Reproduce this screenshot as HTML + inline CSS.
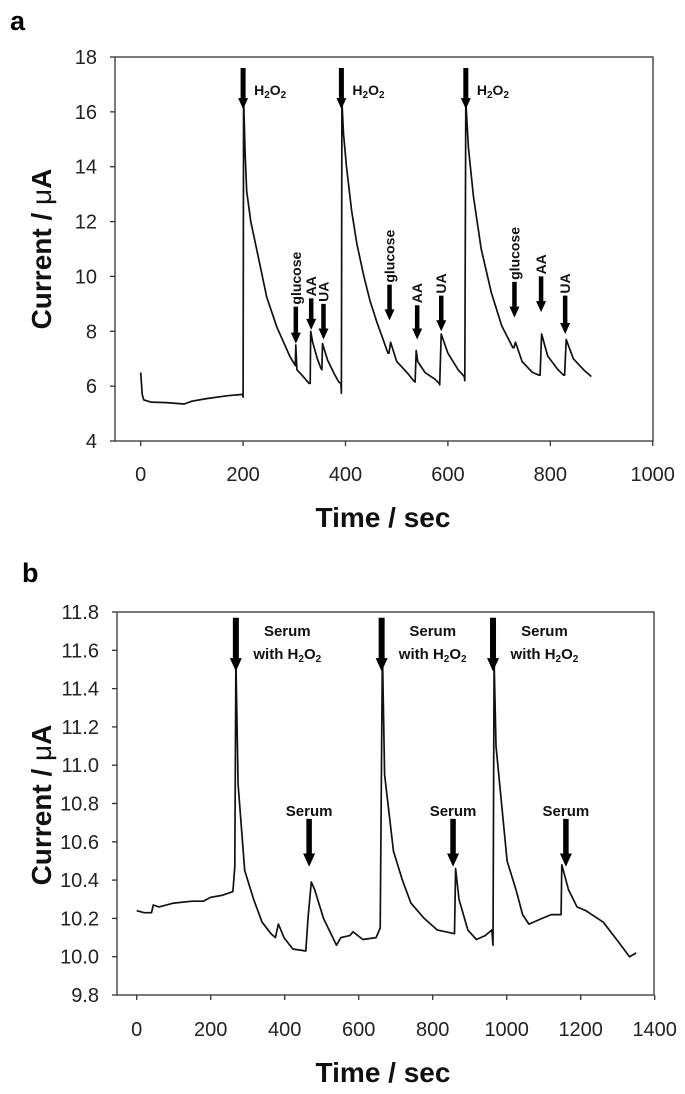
<!DOCTYPE html>
<html><head><meta charset="utf-8"><style>
html,body{margin:0;padding:0;background:#fff;width:685px;height:1094px;overflow:hidden}
svg{display:block}
text{font-family:"Liberation Sans",Arial,sans-serif}
</style></head><body>
<svg id="fig" width="685" height="1094" viewBox="0 0 685 1094" xmlns="http://www.w3.org/2000/svg">
<text x="10" y="30" font-size="27" font-weight="bold">a</text>
<text x="22" y="582" font-size="27" font-weight="bold">b</text>
<g id="pa"></g>
<g id="pb"></g>
</svg>
<script>
// ---------- Panel a data ----------
const aTime = [0,3,6,20,50,85,100,130,170,199,200,201,204,207,215,227,246,266,292,302,303,305,315,329,331,332,336,345,352,354,355,365,378,387,391,392,393,396,402,412,422,436,448,462,474,483,485,488,500,520,533,536,538,541,555,575,583,584,587,600,620,632,633,635,640,650,665,685,705,727,729,732,745,765,778,780,783,795,815,826,828,831,845,865,880];
const aCurr = [6.5,5.7,5.5,5.42,5.4,5.35,5.45,5.55,5.65,5.7,5.6,16.5,14.5,13.1,12.0,10.95,9.25,8.15,7.06,6.75,7.5,6.6,6.4,6.1,6.1,8.0,7.6,7.0,6.65,6.6,7.55,6.95,6.45,6.15,6.1,5.74,16.4,15.2,14.0,12.4,11.2,10.0,9.1,8.3,7.67,7.2,7.2,7.6,6.9,6.5,6.2,6.15,7.3,6.9,6.5,6.25,6.1,6.05,7.9,7.2,6.6,6.35,6.2,16.4,14.7,12.9,11.0,9.4,8.2,7.4,7.4,7.6,6.9,6.5,6.4,6.4,7.9,7.1,6.6,6.4,6.4,7.7,7.0,6.6,6.35];
const aYTicks = [4,6,8,10,12,14,16,18];
const aXTicks = [0,200,400,600,800,1000];
const aArrowT = [200,392,635,303,333,357,486,540,587,730,782,829];
const aArrowTop = [17.6,17.6,17.6,8.9,9.2,9.0,9.7,8.95,9.3,9.8,10.0,9.3];
const aArrowTip = [16.1,16.1,16.1,7.55,8.05,7.7,8.4,7.7,8.0,8.5,8.7,7.9];
const aArrowLbl = ["H2O2","H2O2","H2O2","glucose","AA","UA","glucose","AA","UA","glucose","AA","UA"];

// ---------- Panel b data ----------
const bTime = [0,20,40,45,60,100,150,180,200,230,260,265,268,274,292,316,339,363,375,383,398,422,457,463,472,481,505,540,552,576,585,611,647,658,664,670,694,718,741,777,812,859,862,871,895,918,942,960,963,966,971,1001,1025,1043,1060,1096,1120,1147,1149,1167,1190,1214,1261,1297,1332,1350];
const bCurr = [10.24,10.23,10.23,10.27,10.26,10.28,10.29,10.29,10.31,10.32,10.34,10.47,11.55,10.9,10.45,10.3,10.18,10.12,10.1,10.17,10.1,10.04,10.03,10.2,10.39,10.35,10.2,10.06,10.1,10.11,10.13,10.09,10.1,10.15,11.6,10.95,10.55,10.4,10.28,10.2,10.14,10.12,10.46,10.3,10.14,10.09,10.11,10.14,10.06,11.55,11.1,10.5,10.35,10.22,10.17,10.2,10.22,10.22,10.48,10.35,10.26,10.24,10.18,10.09,10.0,10.02];
const bYTicks = [9.8,10.0,10.2,10.4,10.6,10.8,11.0,11.2,11.4,11.6,11.8];
const bXTicks = [0,200,400,600,800,1000,1200,1400];
const bArrowT = [268,662,963,466,855,1160];
const bArrowTop = [11.77,11.77,11.77,10.72,10.72,10.72];
const bArrowTip = [11.49,11.49,11.49,10.47,10.47,10.47];
const bLblT = [407,800,1102,466,855,1160];
const bArrowBig = [true,true,true,false,false,false];

const NS="http://www.w3.org/2000/svg";
function mk(parent,tag,attrs){const e=document.createElementNS(NS,tag);for(const k in attrs)e.setAttribute(k,attrs[k]);parent.appendChild(e);return e;}

function axes(g,L,R,T,B,x,y,xt,yt,dec,ytitleY,xtitleY,tickY){
  const box=mk(g,'rect',{x:L,y:T,width:R-L,height:B-T,fill:'none',stroke:'#333','stroke-width':1.3});
  
  
  yt.forEach(v=>{
    const t=mk(g,'line',{x1:L-5,x2:L,y1:y(v),y2:y(v),stroke:'#333','stroke-width':1.3});
    
    
    const l=mk(g,'text',{x:L-18,y:y(v)+7,'font-size':20,'text-anchor':'end',fill:'#222'});
    l.textContent=v.toFixed(dec);
    
    
  });
  xt.forEach(v=>{
    const t=mk(g,'line',{x1:x(v),x2:x(v),y1:B,y2:B+5,stroke:'#333','stroke-width':1.3});
    
    
    const l=mk(g,'text',{x:x(v),y:tickY,'font-size':20,'text-anchor':'middle',fill:'#222'});
    l.textContent=v;
    
    
  });
  const xtl=mk(g,'text',{x:383,y:xtitleY,'font-size':28,'font-weight':'bold','text-anchor':'middle',fill:'#111'});
  xtl.textContent='Time / sec';
  
  
  const ytl=mk(g,'text',{x:0,y:0,'font-size':28,'font-weight':'bold','text-anchor':'middle',fill:'#111',transform:`translate(51,${ytitleY}) rotate(-90)`});
  ytl.innerHTML='Current / <tspan font-weight="normal">\u03bc</tspan>A';
  
  
}
function line(g,x,y,ts,vs,name){
  const p=mk(g,'polyline',{points:ts.map((t,i)=>x(t).toFixed(1)+','+y(vs[i]).toFixed(1)).join(' '),fill:'none',stroke:'#111','stroke-width':1.7,'stroke-linejoin':'round'});
  
  
}
function arrow(g,xp,y1,y2,w,hw){
  const hl=hw*1.1;
  const a=mk(g,'path',{d:`M${xp-w/2},${y1}L${xp+w/2},${y1}L${xp+w/2},${y2-hl}L${xp+hw/2},${y2-hl}L${xp},${y2}L${xp-hw/2},${y2-hl}L${xp-w/2},${y2-hl}Z`,fill:'#000'});
  
  
}

// Panel a
(function(){
  const g=document.getElementById('pa');
  const L=115,R=653,T=57,B=441;
  const x=t=>140.7+(t)*0.512;
  const y=v=>T+(18-v)*(B-T)/14;
  axes(g,L,R,T,B,x,y,aXTicks,aYTicks,0,249,527,481);
  line(g,x,y,aTime,aCurr,'current-trace-a');
  aArrowT.forEach((t,i)=>{
    const big=aArrowLbl[i]==='H2O2';
    arrow(g,x(t),y(aArrowTop[i]),y(aArrowTip[i]),big?5:4.5,10);
    let lb;
    if(big){
      lb=mk(g,'text',{x:x(t)+11,y:y(16.8)+5,'font-size':14,'font-weight':'bold',fill:'#111'});
      lb.innerHTML='H<tspan font-size="10" dy="3">2</tspan><tspan dy="-3">O</tspan><tspan font-size="10" dy="3">2</tspan>';
    } else {
      lb=mk(g,'text',{x:0,y:0,'font-size':14,'font-weight':'bold',fill:'#111',transform:`translate(${x(t)+5},${y(aArrowTop[i])-2}) rotate(-90)`});
      lb.textContent=aArrowLbl[i];
    }
    
    
  });
})();

// Panel b
(function(){
  const g=document.getElementById('pb');
  const L=117,R=654,T=612,B=995;
  const x=t=>136.7+t*(654.7-136.7)/1400;
  const y=v=>T+(11.8-v)*(B-T)/2.0;
  axes(g,L,R,T,B,x,y,bXTicks,bYTicks,1,805,1082,1036);
  line(g,x,y,bTime,bCurr,'current-trace-b');
  bArrowT.forEach((t,i)=>{
    const big=bArrowBig[i];
    arrow(g,x(t),y(bArrowTop[i]),y(bArrowTip[i]),big?6:5.5,12);
    const cx=x(bLblT[i]);
    if(big){
      const s=mk(g,'text',{x:cx,y:y(11.7)+5,'font-size':15,'font-weight':'bold','text-anchor':'middle',fill:'#111'});
      s.textContent='Serum';
      
      
      const w=mk(g,'text',{x:cx,y:y(11.58)+5,'font-size':15,'font-weight':'bold','text-anchor':'middle',fill:'#111'});
      w.innerHTML='with H<tspan font-size="10" dy="3">2</tspan><tspan dy="-3">O</tspan><tspan font-size="10" dy="3">2</tspan>';
      
      
    } else {
      const s=mk(g,'text',{x:cx,y:y(10.76)+5,'font-size':15,'font-weight':'bold','text-anchor':'middle',fill:'#111'});
      s.textContent='Serum';
      
      
    }
  });
})();
</script>
</body></html>
